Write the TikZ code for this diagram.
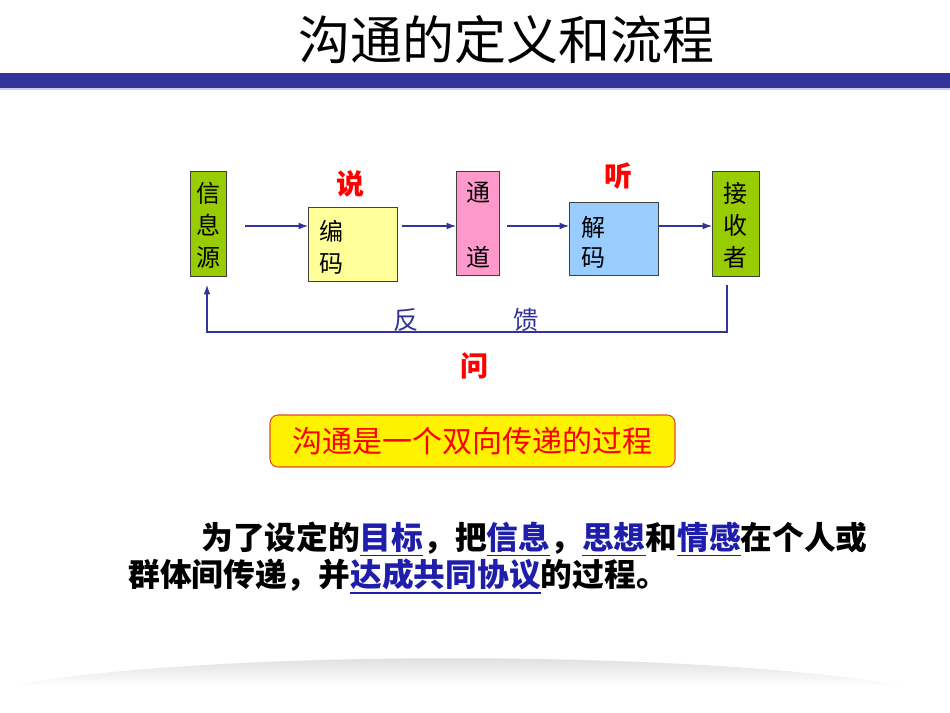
\documentclass[tikz,border=0pt]{standalone}
\usepackage{fontspec}
\setmainfont{Noto Sans CJK SC}
\usetikzlibrary{arrows.meta}
\definecolor{barblue}{HTML}{333399}
\definecolor{barlight}{HTML}{CCCCEE}
\definecolor{boxgreen}{HTML}{99CC00}
\definecolor{boxyellow}{HTML}{FFFF99}
\definecolor{boxpink}{HTML}{FF99CC}
\definecolor{boxblue}{HTML}{99CCFF}
\definecolor{linkblue}{HTML}{1E1EAA}
\definecolor{redtxt}{HTML}{FF0000}
\definecolor{borderred}{HTML}{E05020}
\tikzset{
  stepbox/.style={draw=black!75, line width=0.6pt, inner sep=0pt, anchor=north west},
  boxtext/.style={font=\fontsize{18pt}{24pt}\selectfont, text=black, align=center},
  redlabel/.style={font=\fontsize{21pt}{24pt}\selectfont\bfseries, text=redtxt},
  flow/.style={draw=barblue, line width=0.8pt, -{Latex[length=7pt,width=5pt]}},
  fbtext/.style={font=\fontsize{19pt}{22pt}\selectfont, text=barblue},
  para/.style={font=\fontsize{23.8pt}{28pt}\selectfont\bfseries, text=black, anchor=west, inner sep=0pt}
}
\newsavebox{\lnkbox}
\newcommand{\lnk}[1]{\textcolor{linkblue}{\sbox{\lnkbox}{#1}\rlap{\usebox{\lnkbox}}\rule[-5.5pt]{\wd\lnkbox}{1.1pt}}}
\begin{document}
\begin{tikzpicture}[x=0.75pt,y=-0.75pt]
\useasboundingbox (0,0) rectangle (950,713);
\fill[white] (0,0) rectangle (950,713);
% title
\node[font=\fontsize{39pt}{44pt}\selectfont, text=black] (title) at (506,40) {沟通的定义和流程};
\fill[barblue] (0,73) rectangle (950,88);
\fill[barlight] (0,88) rectangle (950,90);
% boxes
\node[stepbox, fill=boxgreen, minimum width=36*0.75pt, minimum height=105*0.75pt] (src) at (190,171) {};
\node[boxtext] at ([yshift=-1pt]src.center) {信\\息\\源};
\node[stepbox, fill=boxyellow, minimum width=89*0.75pt, minimum height=74*0.75pt] (enc) at (308,207) {};
\node[boxtext, align=left, anchor=north west] at (315,215) {编\\码};
\node[stepbox, fill=boxpink, minimum width=43*0.75pt, minimum height=104*0.75pt] (chan) at (456,171) {};
\node[boxtext, anchor=north] at (478,177) {通};
\node[boxtext, anchor=north] at (478,242) {道};
\node[stepbox, fill=boxblue, minimum width=89*0.75pt, minimum height=73*0.75pt] (dec) at (569,202) {};
\node[boxtext, align=left, anchor=north west, font=\fontsize{18pt}{22.5pt}\selectfont] at (577,212) {解\\码};
\node[stepbox, fill=boxgreen, minimum width=47*0.75pt, minimum height=105*0.75pt] (recv) at (712,171) {};
\node[boxtext] at ([yshift=-1pt]recv.center) {接\\收\\者};
% red labels
\node[redlabel] (say) at (350,184) {说};
\node[redlabel] (listen) at (618,176) {听};
\node[redlabel] (ask) at (474,366) {问};
% arrows
\coordinate (a1s) at (245,226); \coordinate (a1e) at (enc.west |- 0,226);
\coordinate (a2s) at (402,226); \coordinate (a2e) at (chan.west |- 0,226);
\coordinate (a3s) at (507,226); \coordinate (a3e) at (dec.west |- 0,226);
\coordinate (a4s) at (dec.east |- 0,226); \coordinate (a4e) at (recv.west |- 0,226);
\draw[flow] (a1s) -- (a1e);
\draw[flow] (a2s) -- (a2e);
\draw[flow] (a3s) -- (a3e);
\draw[flow] (a4s) -- (a4e);
% feedback
\coordinate (fbR) at (727,285);
\coordinate (fbL) at (207,285);
\coordinate (fbB) at (0,332);
\draw[flow] (fbR) -- (fbR |- fbB) -- (fbL |- fbB) -- (fbL);
\node[fbtext] (fb1) at (406,320) {反};
\node[fbtext] (fb2) at (526,320) {馈};
% rounded statement
\node[draw=borderred, line width=0.8pt, fill=yellow, rounded corners=6pt, minimum width=405*0.75pt, minimum height=52*0.75pt, inner sep=0pt, font=\fontsize{22.5pt}{26pt}\selectfont, text=redtxt] (stmt) at (472.5,441) {沟通是一个双向传递的过程};
% paragraph
\node[para] (p1) at (201,539) {为了设定的\lnk{目标}，把\lnk{信息}，\lnk{思想}和\lnk{情感}在个人或};
\node[para] (p2) at (128,576) {群体间传递，并\lnk{达成共同协议}的过程。};
% bottom shadow
\shade[top color=black!16, bottom color=white] (10,686) .. controls (200,649) and (700,649) .. (905,686) -- cycle;
\end{tikzpicture}
\end{document}
